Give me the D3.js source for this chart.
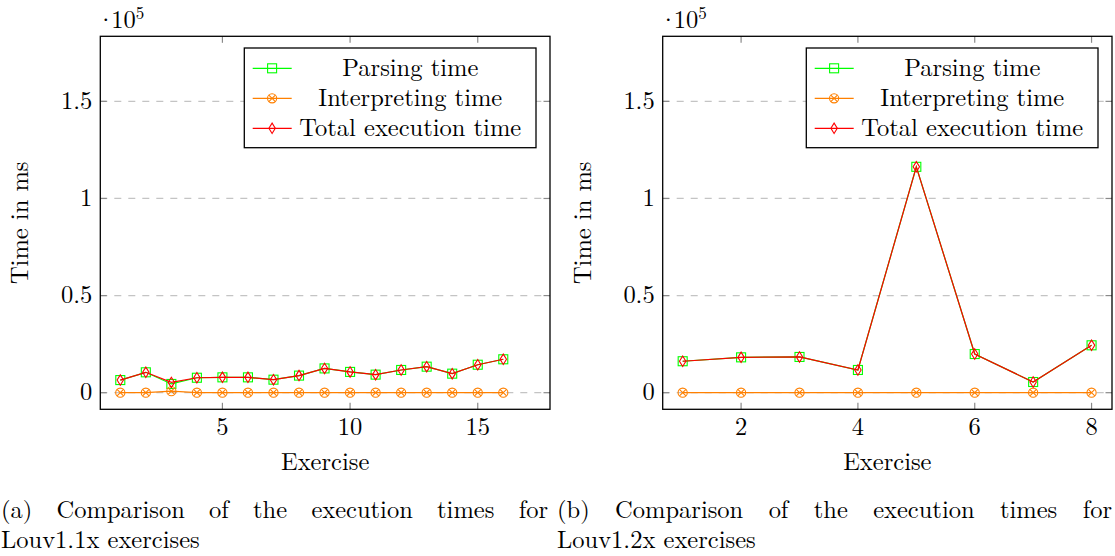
<!DOCTYPE html>
<html>
<head>
<meta charset="utf-8">
<script src="https://cdn.jsdelivr.net/npm/d3@7"></script>
<style>
  body { margin: 0; background: #fff; }
</style>
</head>
<body>
<div id="chart"></div>
<script>
// values are in units of 1e5 ms
const seriesNames = ["Parsing time", "Interpreting time", "Total execution time"]

const exercises1 = [1,2,3,4,5,6,7,8,9,10,11,12,13,14,15,16]
const parsing1 = [0.065,0.105,0.045,0.077,0.079,0.079,0.067,0.088,0.125,0.107,0.093,0.117,0.134,0.098,0.144,0.172]
const interp1 = [0,0,0.008,0,0,0,0,0,0,0,0,0,0,0,0,0]
const total1 = [0.065,0.105,0.053,0.077,0.079,0.079,0.067,0.088,0.125,0.107,0.093,0.117,0.134,0.098,0.144,0.172]
const xTicks1 = [5,10,15]

const exercises2 = [1,2,3,4,5,6,7,8]
const parsing2 = [0.162,0.182,0.184,0.117,1.163,0.199,0.055,0.244]
const interp2 = [0,0,0,0,0,0,0,0]
const total2 = [0.162,0.182,0.184,0.117,1.163,0.199,0.055,0.244]
const xTicks2 = [2,4,6,8]

const yTicks = [0,0.5,1,1.5]
const captions = [
  ["(a) Comparison of the execution times for", "Louv1.1x exercises"],
  ["(b) Comparison of the execution times for", "Louv1.2x exercises"]
]

const colors = ["#00ff00", "#ff8000", "#ff0000"]
const fontSize = 24.5
const serif = "Latin Modern Roman"

const svg = d3.select('#chart').append('svg')
  .attr('width', 1115).attr('height', 556)

//helper so every text gets the serif font
function txt(g){
  return g.append('text').attr('font-family', serif).attr('font-size', fontSize).attr('fill', '#000')
}

function drawMarker(g, kind, x, y, color){
  if(kind == 0){
    g.append('rect').attr('x', x-4.5).attr('y', y-4.5).attr('width', 9).attr('height', 9)
      .attr('fill','none').attr('stroke', color).attr('stroke-width', 1.1)
  } else if(kind == 1){
    g.append('circle').attr('cx', x).attr('cy', y).attr('r', 4.6)
      .attr('fill','none').attr('stroke', color).attr('stroke-width', 1.1)
    const d = 3.25
    g.append('path').attr('d', `M${x-d},${y-d}L${x+d},${y+d}M${x-d},${y+d}L${x+d},${y-d}`)
      .attr('stroke', color).attr('stroke-width', 1.1)
  } else {
    g.append('path').attr('d', `M${x},${y-5.2}L${x+3.2},${y}L${x},${y+5.2}L${x-3.2},${y}Z`)
      .attr('fill','none').attr('stroke', color).attr('stroke-width', 1.1)
  }
}

function drawPanel(box, xDomain, xTicks, xs, series){
  const g = svg.append('g')
  const x = d3.scaleLinear().domain(xDomain).range([box.x0, box.x1])
  const y = d3.scaleLinear().domain([-0.0855, 1.835]).range([box.y1, box.y0])

  // grid
  g.selectAll('.grid').data(yTicks).enter().append('line')
    .attr('x1', box.x0).attr('x2', box.x1)
    .attr('y1', d => y(d)).attr('y2', d => y(d))
    .attr('stroke', '#c4c4c4').attr('stroke-width', 1.2).attr('stroke-dasharray', '7,7')

  // ticks (inside, all four sides)
  const tl = 6.5
  const tickColor = '#8a8a8a'
  yTicks.forEach(t => {
    g.append('line').attr('x1', box.x0).attr('x2', box.x0+tl).attr('y1', y(t)).attr('y2', y(t))
      .attr('stroke', tickColor).attr('stroke-width', 1.2)
    g.append('line').attr('x1', box.x1-tl).attr('x2', box.x1).attr('y1', y(t)).attr('y2', y(t))
      .attr('stroke', tickColor).attr('stroke-width', 1.2)
  })
  xTicks.forEach(t => {
    g.append('line').attr('x1', x(t)).attr('x2', x(t)).attr('y1', box.y1).attr('y2', box.y1-tl)
      .attr('stroke', tickColor).attr('stroke-width', 1.2)
    g.append('line').attr('x1', x(t)).attr('x2', x(t)).attr('y1', box.y0).attr('y2', box.y0+tl)
      .attr('stroke', tickColor).attr('stroke-width', 1.2)
  })

  // series lines and markers
  const line = d3.line().x(d => x(d[0])).y(d => y(d[1]))
  series.forEach((vals, si) => {
    const pts = xs.map((e, i) => [e, vals[i]])
    g.append('path').attr('d', line(pts)).attr('fill', 'none')
      .attr('stroke', colors[si]).attr('stroke-width', 1.2)
    pts.forEach(p => drawMarker(g, si, x(p[0]), y(p[1]), colors[si]))
  })

  // frame
  g.append('rect').attr('x', box.x0).attr('y', box.y0)
    .attr('width', box.x1-box.x0).attr('height', box.y1-box.y0)
    .attr('fill', 'none').attr('stroke', '#000').attr('stroke-width', 1.3)

  // tick labels
  yTicks.forEach(t => {
    txt(g).attr('x', box.x0-8).attr('y', y(t)+7.5).attr('text-anchor', 'end').text(t)
  })
  xTicks.forEach(t => {
    txt(g).attr('x', x(t)).attr('y', 435).attr('text-anchor', 'middle').text(t)
  })

  // exponent
  const ex = txt(g).attr('x', box.x0-4).attr('y', 28)
  ex.append('tspan').text('·')
  ex.append('tspan').attr('dx', -4).text('10')
  ex.append('tspan').attr('font-size', 17).attr('dy', -9).text('5')

  // axis labels
  txt(g).attr('x', (box.x0+box.x1)/2).attr('y', 470).attr('text-anchor', 'middle').text('Exercise')
  txt(g).attr('transform', `translate(${box.x0-72},${(box.y0+box.y1)/2}) rotate(-90)`)
    .attr('text-anchor', 'middle').text('Time in ms')

  // legend
  const lx = box.x1 - 14 - 291.7, ly = box.y0 + 11.7
  const lg = g.append('g')
  lg.append('rect').attr('x', lx).attr('y', ly).attr('width', 291.7).attr('height', 99.7)
    .attr('fill', '#fff').attr('stroke', '#000').attr('stroke-width', 1.3)
  seriesNames.forEach((name, i) => {
    const ry = ly + 20.3 + i*30
    lg.append('line').attr('x1', lx+8.4).attr('x2', lx+47.4).attr('y1', ry).attr('y2', ry)
      .attr('stroke', colors[i]).attr('stroke-width', 1.2)
    drawMarker(lg, i, lx+27.8, ry, colors[i])
    txt(lg).attr('x', lx+166).attr('y', ry+8).attr('text-anchor', 'middle').text(name)
  })
}

function drawCaption(lines, x0, x1){
  // first line justified, second line left-aligned
  const words = lines[0].split(' ')
  const tmp = words.map(w => txt(svg).text(w))
  const widths = tmp.map(t => t.node().getComputedTextLength())
  const gap = (x1 - x0 - d3.sum(widths)) / (words.length - 1)
  let cx = x0
  tmp.forEach((t, i) => {
    t.attr('x', cx).attr('y', 518)
    cx += widths[i] + gap
  })
  txt(svg).attr('x', x0).attr('y', 548).text(lines[1])
}

drawPanel({x0:100.3, x1:550, y0:36.3, y1:409.3}, [0.217, 17.83], xTicks1, exercises1, [parsing1, interp1, total1])
drawPanel({x0:662.7, x1:1112, y0:36.3, y1:409.3}, [0.658, 8.35], xTicks2, exercises2, [parsing2, interp2, total2])

drawCaption(captions[0], 1, 548)
drawCaption(captions[1], 557, 1112)
</script>
</body>
</html>
